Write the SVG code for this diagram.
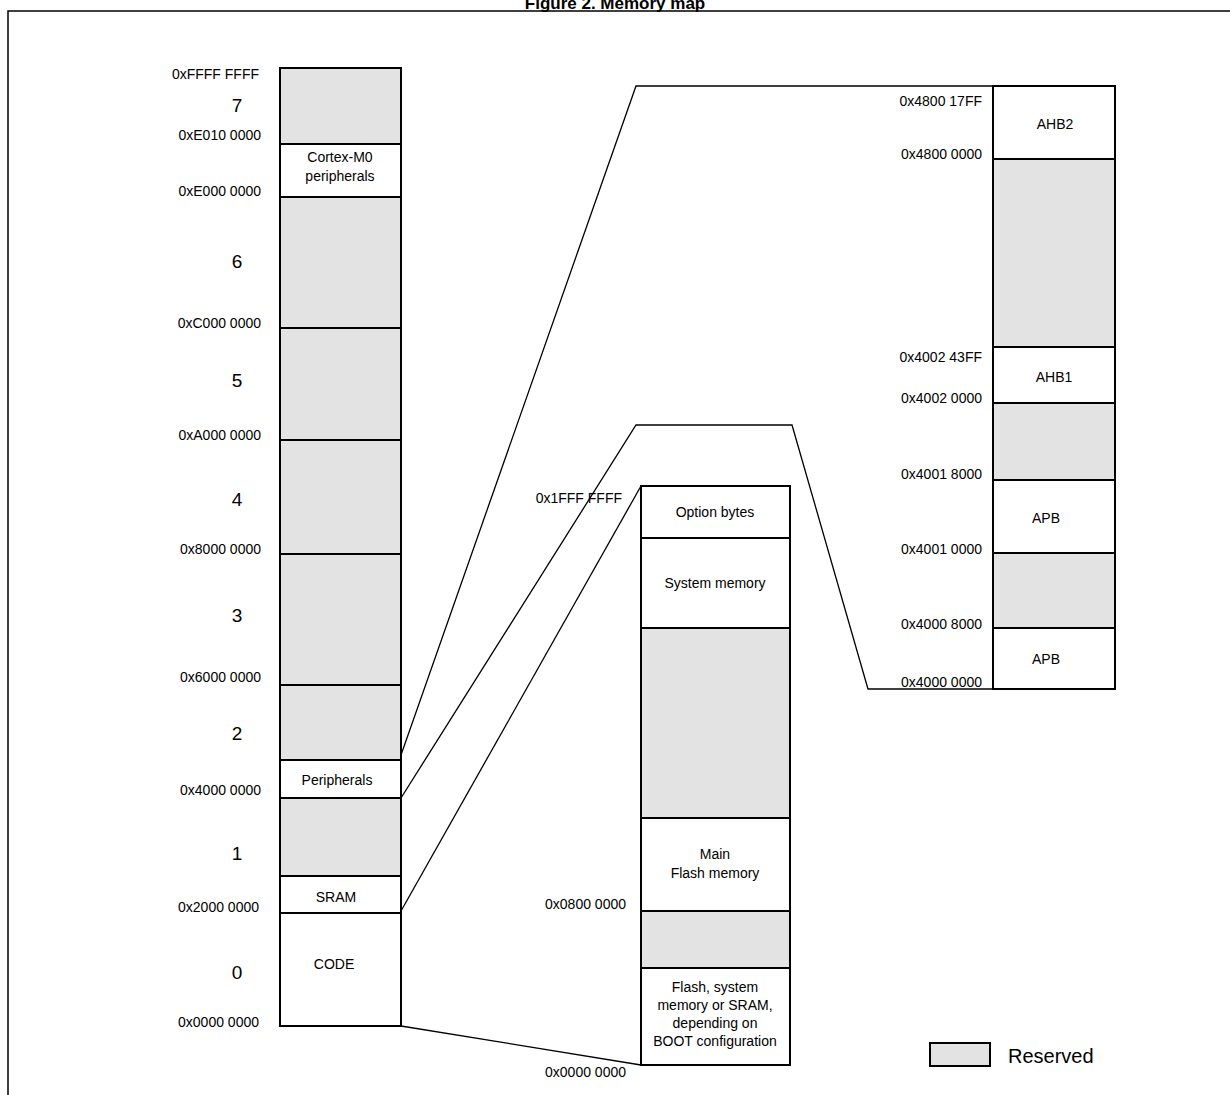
<svg xmlns="http://www.w3.org/2000/svg" width="1230" height="1095" viewBox="0 0 1230 1095">
<style>
.b{stroke:#000;stroke-width:2;fill:#fff}
.r{stroke:#000;stroke-width:2;fill:#e3e3e3}
text{font-family:"Liberation Sans",Arial,sans-serif;fill:#000}
.a{font-size:14px;text-anchor:end}
.c{font-size:14px;text-anchor:middle}
.n{font-size:19px;text-anchor:middle}
.l{fill:none;stroke:#000;stroke-width:1.3}
</style>
<rect width="1230" height="1095" fill="#fff"/>
<text x="615" y="9" font-size="17" font-weight="bold" text-anchor="middle">Figure 2. Memory map</text>
<rect x="8" y="11" width="1230" height="1100" fill="none" stroke="#000" stroke-width="1.5"/>
<g id="connectors">
<polyline class="l" points="401,755 636,86 993,86"/>
<polyline class="l" points="401,798 636,425 792,425 868,689 993,689"/>
<polyline class="l" stroke-width="2" points="401,911 641,486"/>
<polyline class="l" points="401,1026 641,1065"/>
</g>
<g id="left">
<rect class="r" x="280" y="68" width="121" height="76"/>
<rect class="b" x="280" y="144" width="121" height="53"/>
<rect class="r" x="280" y="197" width="121" height="131"/>
<rect class="r" x="280" y="328" width="121" height="112"/>
<rect class="r" x="280" y="440" width="121" height="114"/>
<rect class="r" x="280" y="554" width="121" height="131"/>
<rect class="r" x="280" y="685" width="121" height="75"/>
<rect class="b" x="280" y="760" width="121" height="38"/>
<rect class="r" x="280" y="798" width="121" height="78"/>
<rect class="b" x="280" y="876" width="121" height="37"/>
<rect class="b" x="280" y="913" width="121" height="113"/>
<text class="c" x="340" y="162">Cortex-M0</text>
<text class="c" x="340" y="181">peripherals</text>
<text class="c" x="337" y="785">Peripherals</text>
<text class="c" x="336" y="902">SRAM</text>
<text class="c" x="334" y="969">CODE</text>
<text class="a" x="259" y="79">0xFFFF FFFF</text>
<text class="a" x="261" y="140">0xE010 0000</text>
<text class="a" x="261" y="196">0xE000 0000</text>
<text class="a" x="261" y="328">0xC000 0000</text>
<text class="a" x="261" y="440">0xA000 0000</text>
<text class="a" x="261" y="554">0x8000 0000</text>
<text class="a" x="261" y="682">0x6000 0000</text>
<text class="a" x="261" y="795">0x4000 0000</text>
<text class="a" x="259" y="912">0x2000 0000</text>
<text class="a" x="259" y="1027">0x0000 0000</text>
<text class="n" x="237" y="112">7</text>
<text class="n" x="237" y="268">6</text>
<text class="n" x="237" y="387">5</text>
<text class="n" x="237" y="506">4</text>
<text class="n" x="237" y="622">3</text>
<text class="n" x="237" y="740">2</text>
<text class="n" x="237" y="860">1</text>
<text class="n" x="237" y="979">0</text>
</g>
<g id="flash">
<rect class="b" x="641" y="486" width="149" height="52"/>
<rect class="b" x="641" y="538" width="149" height="90"/>
<rect class="r" x="641" y="628" width="149" height="190"/>
<rect class="b" x="641" y="818" width="149" height="93"/>
<rect class="r" x="641" y="911" width="149" height="57"/>
<rect class="b" x="641" y="968" width="149" height="97"/>
<text class="c" x="715" y="517">Option bytes</text>
<text class="c" x="715" y="588">System memory</text>
<text class="c" x="715" y="859">Main</text>
<text class="c" x="715" y="878">Flash memory</text>
<text class="c" x="715" y="992">Flash, system</text>
<text class="c" x="715" y="1010">memory or SRAM,</text>
<text class="c" x="715" y="1028">depending on</text>
<text class="c" x="715" y="1046">BOOT configuration</text>
<text class="a" x="622" y="503">0x1FFF FFFF</text>
<text class="a" x="626" y="909">0x0800 0000</text>
<text class="a" x="626" y="1077">0x0000 0000</text>
</g>
<g id="periph">
<rect class="b" x="993" y="86" width="122" height="73"/>
<rect class="r" x="993" y="159" width="122" height="188"/>
<rect class="b" x="993" y="347" width="122" height="56"/>
<rect class="r" x="993" y="403" width="122" height="77"/>
<rect class="b" x="993" y="480" width="122" height="73"/>
<rect class="r" x="993" y="553" width="122" height="75"/>
<rect class="b" x="993" y="628" width="122" height="61"/>
<text class="c" x="1055" y="129">AHB2</text>
<text class="c" x="1054" y="382">AHB1</text>
<text class="c" x="1046" y="523">APB</text>
<text class="c" x="1046" y="664">APB</text>
<text class="a" x="982" y="106">0x4800 17FF</text>
<text class="a" x="982" y="159">0x4800 0000</text>
<text class="a" x="982" y="362">0x4002 43FF</text>
<text class="a" x="982" y="403">0x4002 0000</text>
<text class="a" x="982" y="479">0x4001 8000</text>
<text class="a" x="982" y="554">0x4001 0000</text>
<text class="a" x="982" y="629">0x4000 8000</text>
<text class="a" x="982" y="687">0x4000 0000</text>
</g>
<g id="legend">
<rect class="r" x="930" y="1043" width="60" height="23"/>
<text x="1008" y="1063" font-size="20">Reserved</text>
</g>
</svg>
